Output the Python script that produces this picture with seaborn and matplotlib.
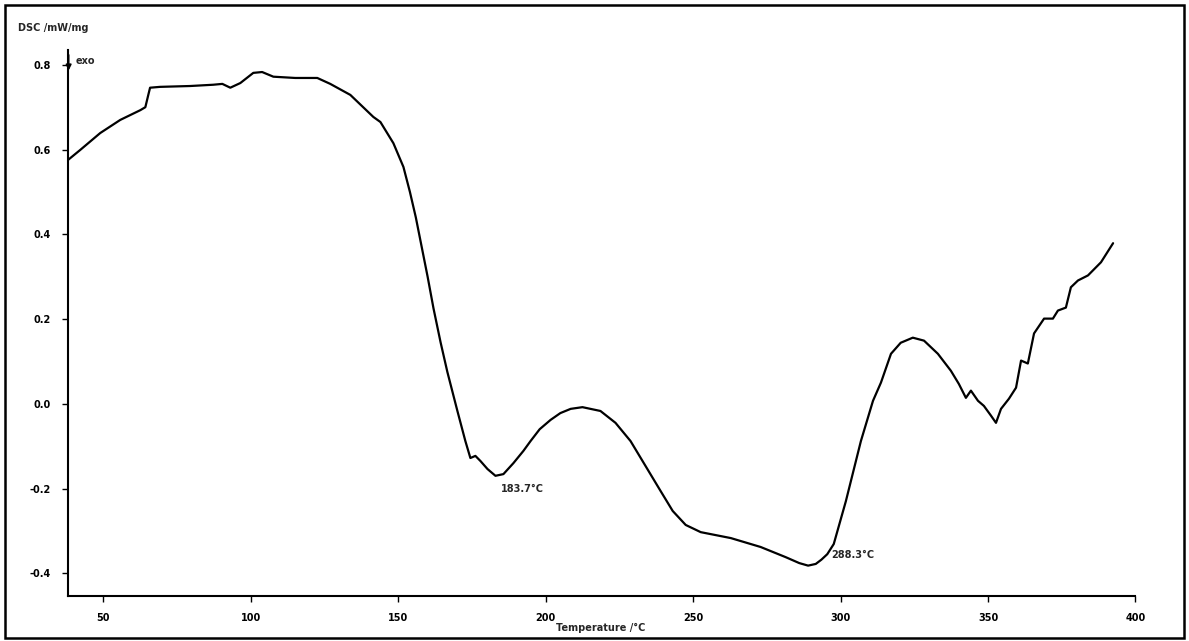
import matplotlib
matplotlib.use("Agg")
import matplotlib.pyplot as plt
import seaborn as sns
import pandas as pd
from matplotlib.patches import Rectangle

# ---- data ----
temperature = [38.0, 42.2, 49.0, 55.8, 62.6, 64.3, 65.3, 65.9, 69.3, 79.5, 87.3, 90.4,
               93.1, 96.5, 100.9, 103.9, 107.7, 115.1, 122.6, 127.0, 133.8, 141.6,
               144.0, 148.4, 151.8, 154.0, 156.0, 158.0, 160.0, 162.0, 164.4, 166.7, 170.1,
               172.8, 174.5, 176.2, 177.9, 180.3, 183.0, 185.7, 189.1, 192.5, 194.9,
               198.0, 201.7, 205.0, 208.5, 212.5, 218.6, 223.7, 228.8, 233.9, 239.0,
               243.1, 247.5, 252.6, 262.8, 272.9, 281.4, 286.0, 289.0, 291.6, 293.5,
               295.5, 297.7, 301.8, 306.9, 311.0, 313.7,
               317.1, 320.4, 324.5, 328.3, 333.0, 337.4, 340.1, 342.5, 344.2, 346.6,
               348.6, 351.0, 352.7, 354.4, 357.1, 359.5, 361.2, 363.5, 365.6, 369.0,
               372.0, 373.7, 376.4, 378.1, 380.5, 383.9, 388.3, 392.4]
dsc = [0.575, 0.599, 0.639, 0.670, 0.693, 0.700, 0.729, 0.746, 0.748, 0.750, 0.753, 0.755,
       0.746, 0.757, 0.781, 0.783, 0.772, 0.769, 0.769, 0.755, 0.729, 0.677,
       0.665, 0.615, 0.559, 0.500, 0.440, 0.370, 0.300, 0.225, 0.145, 0.075, -0.017,
       -0.088, -0.128, -0.123, -0.135, -0.154, -0.170, -0.166, -0.140, -0.111, -0.088,
       -0.060, -0.038, -0.022, -0.012, -0.008, -0.017, -0.045, -0.088, -0.147, -0.206,
       -0.253, -0.286, -0.303, -0.317, -0.338, -0.362, -0.376, -0.382, -0.378, -0.368,
       -0.355, -0.331, -0.230, -0.088, 0.007, 0.050,
       0.118, 0.144, 0.156, 0.149, 0.118, 0.078, 0.047, 0.014, 0.031, 0.007,
       -0.005, -0.028, -0.045, -0.012, 0.012, 0.038, 0.102, 0.095, 0.166, 0.201,
       0.201, 0.220, 0.227, 0.275, 0.291, 0.303, 0.334, 0.379]
x_ticks = [50, 100, 150, 200, 250, 300, 350, 400]
y_ticks = [-0.4, -0.2, 0.0, 0.2, 0.4, 0.6, 0.8]
peak_labels = ["183.7°C", "288.3°C"]
peak_temps = [183.7, 288.3]
peak_vals = [-0.170, -0.388]

df = pd.DataFrame({"T": temperature, "DSC": dsc})

sns.set_theme(style="ticks")
plt.rcParams["font.family"] = ["DejaVu Sans"]

fig = plt.figure(figsize=(11.89, 6.41), dpi=100)
ax = fig.add_axes([0.057, 0.070, 0.898, 0.852])

sns.lineplot(data=df, x="T", y="DSC", color="black", linewidth=1.6, ax=ax)

ax.set_xlim(38, 400)
ax.set_ylim(-0.454, 0.835)
ax.set_xticks(x_ticks)
ax.set_yticks(y_ticks)
ax.set_xticklabels([str(t) for t in x_ticks], fontsize=7, fontweight="bold")
ax.set_yticklabels([f"{t:.1f}" for t in y_ticks], fontsize=7, fontweight="bold")
ax.tick_params(direction="out", length=4, width=1, colors="black", pad=8)
ax.set_xlabel("")
ax.set_ylabel("")
for s in ["top", "right"]:
    ax.spines[s].set_visible(False)
for s in ["left", "bottom"]:
    ax.spines[s].set_linewidth(1.5)
    ax.spines[s].set_color("black")

# peak annotations
ax.text(peak_temps[0] + 1.0, peak_vals[0] - 0.03, peak_labels[0], fontsize=7,
        fontweight="bold", ha="left", va="center")
ax.text(peak_temps[1] + 8.5, peak_vals[1] + 0.03, peak_labels[1], fontsize=7,
        fontweight="bold", ha="left", va="center")

# exo arrow
ax.annotate("", xy=(38.3, 0.78), xytext=(38.3, 0.83),
            arrowprops=dict(arrowstyle="-|>", color="black", lw=1.2, mutation_scale=8),
            annotation_clip=False)
ax.text(40.5, 0.808, "exo", fontsize=7, fontweight="bold", ha="left", va="center")

# axis titles placed like the instrument printout
fig.text(0.015, 0.957, "DSC /mW/mg", fontsize=7, fontweight="bold", ha="left", va="center")
fig.text(0.505, 0.020, "Temperature /°C", fontsize=7, fontweight="bold", ha="center", va="center")

# outer printout frame
fig.patches.append(Rectangle((0.004, 0.004), 0.992, 0.988, transform=fig.transFigure,
                             fill=False, edgecolor="black", linewidth=1.8))

fig.savefig("out.png", dpi=100, facecolor="white")
